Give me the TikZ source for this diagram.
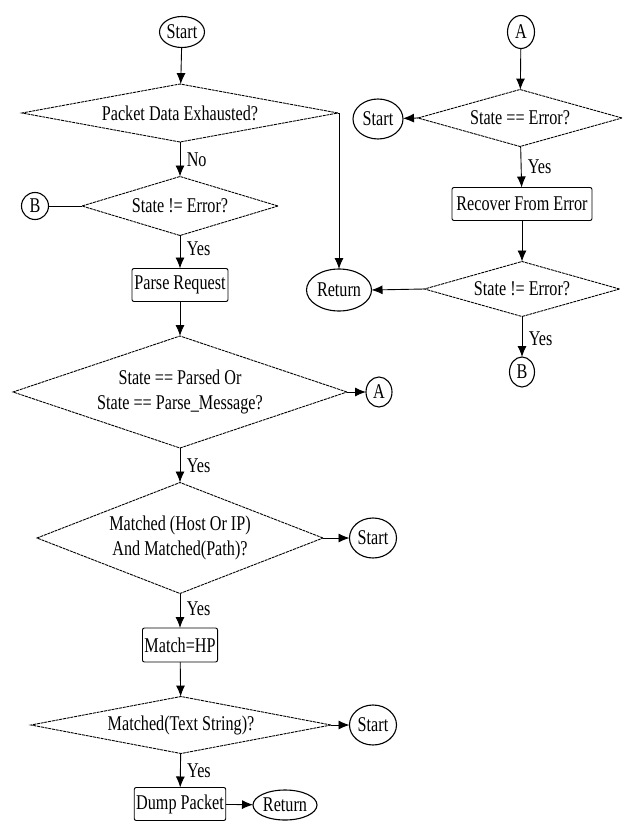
\documentclass[tikz,border=0pt]{standalone}
\usepackage{fontspec}
\setmainfont[FakeStretch=0.77]{Liberation Serif}
\usetikzlibrary{shapes.geometric,arrows.meta}
\tikzset{
  base/.style={draw, line width=0.9pt, inner sep=0pt, outer sep=0pt, align=center},
  dia/.style={base, diamond, dash pattern=on 3pt off 0.8pt},
  term/.style={base, ellipse, line width=1.1pt},
  proc/.style={base, rectangle, rounded corners=2pt, inner xsep=2pt},
  arr/.style={line width=0.9pt, -{Latex[length=11pt,width=9pt]}},
  ln/.style={line width=0.9pt},
  lbl/.style={right, xshift=3pt}
}
\begin{document}
\begin{tikzpicture}[x=1pt,y=-1pt,font=\fontsize{21}{25}\selectfont]
\useasboundingbox (0,0) rectangle (622,821);

% main column
\node[term, minimum width=45, minimum height=31] (start1) at (182,32) {Start};
\node[dia, minimum width=316, minimum height=58, aspect=5.4] (d1) at (180,113) {Packet Data Exhausted?};
\node[dia, minimum width=196, minimum height=59, aspect=3.3] (d2) at (180,206) {State != Error?};
\node[term, minimum width=27, minimum height=27] (b1) at (35,206) {B};
\node[term, minimum width=65, minimum height=42] (ret1) at (339,290) {Return};
\node[proc, minimum width=96, minimum height=33] (pr) at (180,285) {Parse Request};
\node[dia, minimum width=334, minimum height=112, aspect=3] (d3) at (180,392) {State == Parsed Or\\State == Parse\_Message?};
\node[term, minimum width=26, minimum height=30] (a1) at (379,392) {A};
\node[dia, minimum width=286, minimum height=111, aspect=2.6] (d4) at (180,538) {Matched (Host Or IP)\\And Matched(Path)?};
\node[term, minimum width=47, minimum height=40] (st2) at (373,538) {Start};
\node[proc, minimum width=74, minimum height=34] (hp) at (180,645) {Match=HP};
\node[dia, minimum width=300, minimum height=57, aspect=5.3] (d5) at (181,725) {Matched(Text String)?};
\node[term, minimum width=47, minimum height=40] (st3) at (373,725) {Start};
\node[proc, minimum width=91, minimum height=33] (dump) at (180,804) {Dump Packet};
\node[term, minimum width=64, minimum height=30] (ret2) at (285,805) {Return};

% error-recovery column
\node[term, minimum width=27, minimum height=33] (a2) at (521,32) {A};
\node[dia, minimum width=204, minimum height=57, aspect=3.6] (r1) at (520,118) {State == Error?};
\node[term, minimum width=50, minimum height=40] (st4) at (378,119) {Start};
\node[proc, minimum width=140, minimum height=33] (rec) at (522,204) {Recover From Error};
\node[dia, minimum width=195, minimum height=55, aspect=3.5] (r2) at (522,289) {State != Error?};
\node[term, minimum width=25, minimum height=30] (b2) at (522,372) {B};

% connectors
\draw[arr] (start1) -- (d1);
\draw[arr] (d1) -- node[lbl]{No} (d2);
\draw[ln] (b1) -- (d2.west);
\draw[arr] (d1.east) -| (ret1.north);
\draw[arr] (d2) -- node[lbl, pos=0.4]{Yes} (pr);
\draw[arr] (pr) -- (d3);
\draw[arr] (d3.east) -- (a1);
\draw[arr] (d3) -- node[lbl]{Yes} (d4);
\draw[arr] (d4.east) -- (st2);
\draw[arr] (d4) -- node[lbl, pos=0.45]{Yes} (hp);
\draw[arr] (hp) -- (d5);
\draw[arr] (d5.east) -- (st3);
\draw[arr] (d5) -- node[lbl]{Yes} (dump);
\draw[arr] (dump) -- (ret2);

\draw[arr] (a2) -- (r1);
\draw[arr] (r1.west) -- (st4);
\draw[arr] (r1) -- node[lbl]{Yes} (rec);
\draw[arr] (rec) -- (r2);
\draw[arr] (r2.west) -- (ret1.east);
\draw[arr] (r2) -- node[lbl, pos=0.55]{Yes} (b2);
\end{tikzpicture}
\end{document}
